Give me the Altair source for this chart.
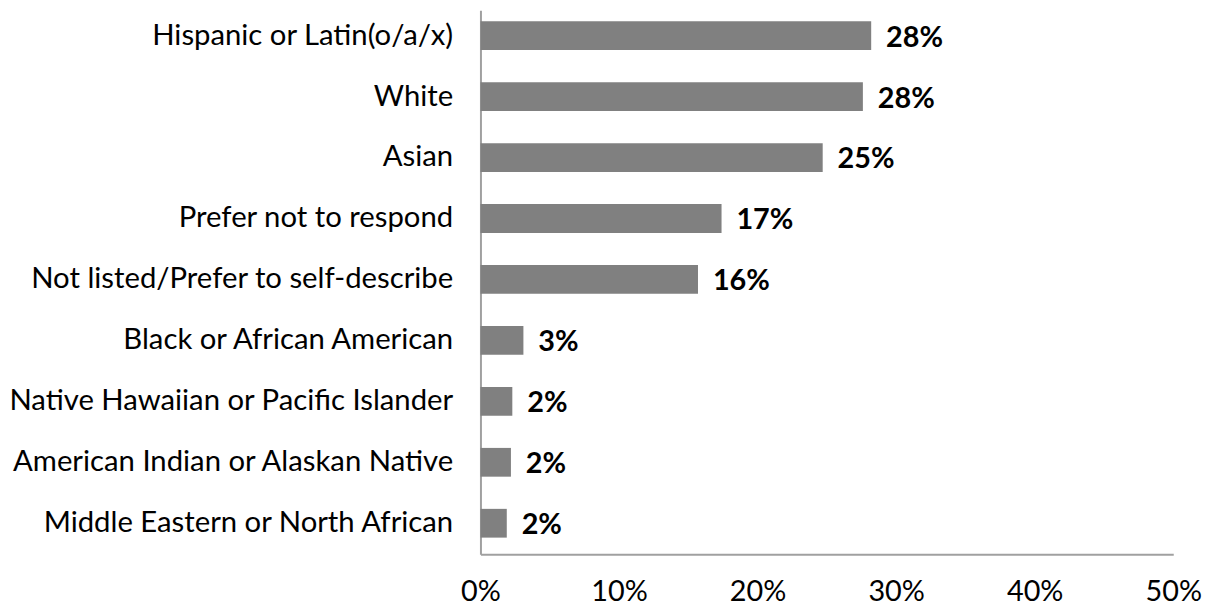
import altair as alt
import pandas as pd

categories = [
    "Hispanic or Latin(o/a/x)",
    "White",
    "Asian",
    "Prefer not to respond",
    "Not listed/Prefer to self-describe",
    "Black or African American",
    "Native Hawaiian or Pacific Islander",
    "American Indian or Alaskan Native",
    "Middle Eastern or North African",
]
values = [0.282, 0.276, 0.247, 0.174, 0.157, 0.031, 0.023, 0.022, 0.019]
labels = ["28%", "28%", "25%", "17%", "16%", "3%", "2%", "2%", "2%"]

df = pd.DataFrame({"cat": categories, "val": values, "lab": labels})

FONT = "Lato"

x = alt.X(
    "val:Q",
    scale=alt.Scale(domain=[0, 0.5]),
    axis=alt.Axis(
        format=".0%",
        values=[0, 0.1, 0.2, 0.3, 0.4, 0.5],
        grid=False,
        ticks=False,
        title=None,
        labelFont=FONT,
        labelFontSize=29,
        labelColor="#000000",
        labelPadding=24,
        domainColor="#a0a0a0",
        domainWidth=2,
        labelFlush=False,
    ),
)
y = alt.Y(
    "cat:N",
    sort=categories,
    scale=alt.Scale(paddingInner=0.528, paddingOuter=0.226, align=0.4),
    axis=alt.Axis(
        title=None,
        ticks=False,
        grid=False,
        labelFont=FONT,
        labelFontSize=29.5,
        labelColor="#000000",
        labelPadding=28,
        labelLimit=0,
        domainColor="#a0a0a0",
        domainWidth=2,
    ),
)

bars = alt.Chart(df).mark_bar(color="#808080").encode(x=x, y=y)
text = alt.Chart(df).mark_text(
    align="left", baseline="middle", dx=15, dy=2, font=FONT, fontSize=29,
    fontWeight="bold", color="#000000"
).encode(x="val:Q", y=alt.Y("cat:N", sort=categories), text="lab:N")

chart = (
    (bars + text)
    .properties(
        width=698, height=548,
        padding={"left": 0, "top": 0, "right": 5, "bottom": 0},
        background="#ffffff",
    )
    .configure_view(stroke="transparent", strokeWidth=0)
)

chart.save("out.html", embed_options={"renderer": "svg", "actions": False})
